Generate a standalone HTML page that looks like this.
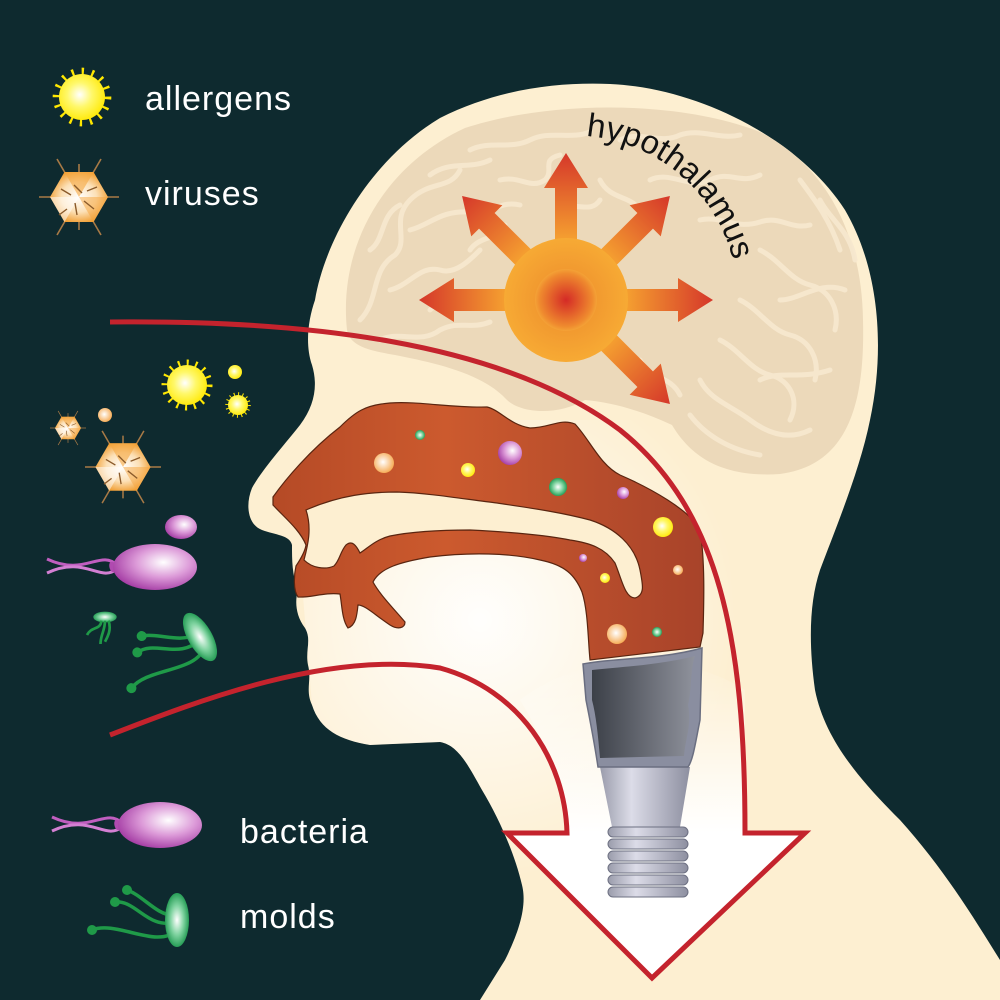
<!DOCTYPE html>
<html><head><meta charset="utf-8"><style>
html,body{margin:0;padding:0;background:#0e2a2f;}
svg{display:block}
text{font-family:"Liberation Sans",sans-serif}
</style></head><body>
<svg width="1000" height="1000" viewBox="0 0 1000 1000" xmlns="http://www.w3.org/2000/svg">
<defs>
<radialGradient id="gy" cx="0.45" cy="0.45" r="0.6"><stop offset="0" stop-color="#ffffff"/><stop offset="0.45" stop-color="#fff86a"/><stop offset="1" stop-color="#ffe800"/></radialGradient>
<radialGradient id="gp" cx="0.6" cy="0.4" r="0.65"><stop offset="0" stop-color="#ffffff"/><stop offset="0.5" stop-color="#dc9ad8"/><stop offset="1" stop-color="#a33aa3"/></radialGradient>
<radialGradient id="gg" cx="0.5" cy="0.5" r="0.55"><stop offset="0" stop-color="#ffffff"/><stop offset="0.5" stop-color="#7fd3a0"/><stop offset="1" stop-color="#149247"/></radialGradient>
<radialGradient id="gv" cx="0.5" cy="0.5" r="0.55"><stop offset="0" stop-color="#ffffff"/><stop offset="0.55" stop-color="#fce0b6"/><stop offset="1" stop-color="#f09a2a"/></radialGradient>
<radialGradient id="go" cx="0.45" cy="0.45" r="0.6"><stop offset="0" stop-color="#ffffff"/><stop offset="1" stop-color="#f5a64a"/></radialGradient>
<radialGradient id="sun" cx="0.5" cy="0.5" r="0.5"><stop offset="0" stop-color="#ec8a2c"/><stop offset="1" stop-color="#f7aa34"/></radialGradient>
<radialGradient id="sunin" cx="0.5" cy="0.5" r="0.5"><stop offset="0" stop-color="#d42a26"/><stop offset="0.85" stop-color="#ef8a2e"/><stop offset="1" stop-color="#f4a236"/></radialGradient>
<linearGradient id="arr" x1="0" y1="0" x2="1" y2="0"><stop offset="0" stop-color="#f5a030"/><stop offset="1" stop-color="#d5372a"/></linearGradient>
<radialGradient id="glow" cx="480" cy="620" r="260" gradientUnits="userSpaceOnUse"><stop offset="0" stop-color="#ffffff" stop-opacity="0.95"/><stop offset="1" stop-color="#ffffff" stop-opacity="0"/></radialGradient>
<linearGradient id="brown" x1="0" y1="0" x2="1" y2="0"><stop offset="0" stop-color="#b54a26"/><stop offset="0.4" stop-color="#cc5a2e"/><stop offset="1" stop-color="#a8432a"/></linearGradient>
<linearGradient id="lar" x1="0" y1="0" x2="1" y2="0"><stop offset="0" stop-color="#3c4048"/><stop offset="1" stop-color="#8f929c"/></linearGradient>
<linearGradient id="trach" x1="0" y1="0" x2="1" y2="0"><stop offset="0" stop-color="#9a9cab"/><stop offset="0.35" stop-color="#dcdce8"/><stop offset="1" stop-color="#8d8fa0"/></linearGradient>
<linearGradient id="stem" x1="0" y1="0" x2="0" y2="1"><stop offset="0" stop-color="#ffffff" stop-opacity="0"/><stop offset="1" stop-color="#ffffff" stop-opacity="1"/></linearGradient>
<g id="allergen"><circle r="22" fill="none" stroke="#ffe800" stroke-width="7" stroke-dasharray="2 6.6"/><circle r="20" fill="url(#gy)"/></g>
<g id="virus">
<g stroke="#a87a46" stroke-width="1.6"><line x1="-40" y1="0" x2="40" y2="0"/><line x1="-22" y1="-38" x2="22" y2="38"/><line x1="22" y1="-38" x2="-22" y2="38"/><line x1="0" y1="-33" x2="0" y2="33"/></g>
<polygon points="29,0 14.5,25 -14.5,25 -29,0 -14.5,-25 14.5,-25" fill="url(#gv)"/>
<polygon points="0,0 14.5,-25 -14.5,-25" fill="#f5a640" opacity="0.6"/>
<polygon points="0,0 14.5,25 29,0" fill="#f5a640" opacity="0.5"/>
<polygon points="0,0 -14.5,25 -29,0" fill="#fff" opacity="0.5"/>
<g stroke="#8a5a2a" stroke-width="1.4"><line x1="-5" y1="-12" x2="3" y2="-4"/><line x1="5" y1="4" x2="15" y2="12"/><line x1="-18" y1="-8" x2="-8" y2="-2"/><line x1="-4" y1="6" x2="-2" y2="18"/><line x1="8" y1="-6" x2="18" y2="-10"/><line x1="-12" y1="12" x2="-20" y2="18"/></g>
</g>
<g id="bact">
<path d="M-38,-2 C-55,-18 -70,10 -108,-8" fill="none" stroke="#c05ec0" stroke-width="3"/>
<path d="M-38,2 C-55,16 -70,-12 -108,6" fill="none" stroke="#d37fd3" stroke-width="3"/>
<path d="M-40,-4 C-50,-10 -45,10 -40,4" fill="#b04ab0"/>
<ellipse rx="42" ry="23" fill="url(#gp)"/>
</g>
<g id="mold">
<g fill="none" stroke="#1f9a48" stroke-width="3.5"><path d="M0,2 C-30,10 -40,-20 -62,-18"/><path d="M-5,-5 C-20,-5 -35,-25 -50,-30"/><path d="M0,10 C-20,30 -60,0 -85,10"/></g>
<g fill="#1f9a48"><circle cx="-62" cy="-18" r="5"/><circle cx="-50" cy="-30" r="5"/><circle cx="-85" cy="10" r="5"/></g>
<ellipse rx="12" ry="27" fill="url(#gg)"/>
</g>
<clipPath id="headclip"><path d="M480,1000 L505,960 C520,930 527,905 522,885 C515,855 500,820 482,790 C468,765 458,745 440,742 L370,745 C340,740 320,730 312,705 C305,690 312,680 308,665 C305,650 312,640 305,628 C295,615 295,600 298,590 C292,575 292,560 292,545 C290,535 275,535 262,530 C248,525 245,505 252,488 C262,470 280,450 300,425 C315,405 318,385 312,365 C305,345 308,320 315,300 C325,240 370,160 440,118 C500,88 560,82 610,84 C700,88 800,140 845,210 C880,270 885,350 870,420 C860,470 835,530 820,570 C810,600 808,640 815,690 C825,740 860,780 900,820 C945,870 975,920 1000,960 L1000,1000 Z"/></clipPath>
</defs>
<rect width="1000" height="1000" fill="#0e2a2f"/>
<path d="M480,1000 L505,960 C520,930 527,905 522,885 C515,855 500,820 482,790 C468,765 458,745 440,742 L370,745 C340,740 320,730 312,705 C305,690 312,680 308,665 C305,650 312,640 305,628 C295,615 295,600 298,590 C292,575 292,560 292,545 C290,535 275,535 262,530 C248,525 245,505 252,488 C262,470 280,450 300,425 C315,405 318,385 312,365 C305,345 308,320 315,300 C325,240 370,160 440,118 C500,88 560,82 610,84 C700,88 800,140 845,210 C880,270 885,350 870,420 C860,470 835,530 820,570 C810,600 808,640 815,690 C825,740 860,780 900,820 C945,870 975,920 1000,960 L1000,1000 Z" fill="#fdefd1"/>
<path d="M347,330 C338,245 385,165 465,128 C550,100 680,100 760,132 C830,168 862,240 863,320 C865,400 850,465 780,474 C720,478 690,455 672,425 C640,410 610,402 585,400 C560,415 520,415 505,398 C480,372 430,362 395,355 C365,350 350,345 347,330 Z" fill="#ecd9ba"/>
<g fill="none" stroke="#f7e8cf" stroke-width="5" stroke-linecap="round" opacity="0.95">
<path d="M360,320 C380,300 370,270 395,255 C410,240 390,220 410,200 C430,180 450,190 460,170"/>
<path d="M380,340 C400,330 420,345 440,330 C460,320 470,330 490,322"/>
<path d="M390,290 C410,285 420,265 440,270 C455,275 470,260 480,250"/>
<path d="M410,230 C430,225 440,210 470,212 C490,215 500,200 520,205"/>
<path d="M470,150 C490,140 510,150 530,140 C550,130 570,140 590,132"/>
<path d="M500,180 C520,175 530,190 545,180 C555,170 540,160 560,155"/>
<path d="M620,140 C640,130 660,145 680,135 C700,128 720,140 740,135"/>
<path d="M650,180 C670,170 690,190 710,180 C730,170 740,185 760,175"/>
<path d="M700,220 C720,215 735,230 760,222 C780,215 790,230 810,225"/>
<path d="M760,250 C780,260 790,280 810,285 C830,290 840,310 835,330"/>
<path d="M740,300 C760,310 770,330 790,335 C810,340 820,360 815,380"/>
<path d="M720,340 C740,350 750,370 770,375 C790,380 800,400 790,420"/>
<path d="M700,380 C710,400 730,405 750,420 C770,435 790,440 810,430"/>
<path d="M690,415 C705,435 730,450 760,455"/>
<path d="M640,360 C650,380 670,375 680,395"/>
<path d="M800,180 C815,200 830,220 840,250"/>
<path d="M430,175 C450,160 470,170 490,160"/>
<path d="M600,180 C610,200 630,195 640,210"/>
<path d="M470,250 C480,235 500,240 505,225"/>
<path d="M370,250 C385,240 380,215 400,205"/>
<path d="M560,210 C575,200 590,215 600,200"/>
<path d="M780,300 C800,300 820,280 845,290"/>
<path d="M760,380 C780,370 800,380 830,370"/>
<path d="M430,310 C440,300 460,305 470,295"/>
<path d="M820,200 C830,220 850,230 855,260"/>
</g>
<path d="M480,1000 L505,960 C520,930 527,905 522,885 C515,855 500,820 482,790 C468,765 458,745 440,742 L370,745 C340,740 320,730 312,705 L300,560 L480,420 L720,420 L760,1000 Z" fill="url(#glow)" clip-path="url(#headclip)"/>
<g transform="translate(566,300)">
<g id="ar"><polygon points="60,-11 112,-11 112,-22 147,0 112,22 112,11 60,11" fill="url(#arr)"/></g>
<use href="#ar" transform="rotate(-90)"/>
<use href="#ar" transform="rotate(-45)"/>
<use href="#ar" transform="rotate(-135)"/>
<use href="#ar" transform="rotate(180)"/>
<use href="#ar" transform="rotate(45)"/>
<circle r="62" fill="url(#sun)"/>
<circle r="31" fill="url(#sunin)"/>
</g>
<path id="tp" d="M586,136 A165,165 0 0 1 738,300" fill="none"/>
<text font-size="33" fill="#111"><textPath href="#tp">hypothalamus</textPath></text>
<path d="M273,497 C285,480 310,450 340,427 C355,412 365,405 390,403 C420,401 450,408 487,407 C500,410 510,425 530,428 C550,428 560,418 575,424 C590,440 600,465 620,475 C650,488 690,510 700,530 C705,560 704,600 703,633 L700,647 L590,660 C588,640 588,610 582,592 C575,575 565,565 540,560 C510,553 470,552 430,557 C400,562 380,568 373,582 C380,595 395,610 405,622 C405,628 398,630 390,625 C375,615 365,605 358,605 C357,615 356,625 348,628 C342,620 342,605 340,594 C325,592 310,598 298,597 C293,590 294,575 296,566 C300,560 305,552 306,545 C300,530 285,518 273,505 Z" fill="url(#brown)" stroke="#5a2510" stroke-width="1.2"/>
<path d="M306,510 C340,495 370,492 397,492 C430,493 470,500 497,503 C530,508 560,512 590,520 C615,528 635,545 640,570 C643,585 645,595 635,598 C625,598 622,580 615,563 C605,548 590,543 570,540 C545,535 510,532 470,530 C440,530 410,532 390,536 C375,540 368,548 360,553 C356,545 352,540 346,545 C340,552 340,560 334,566 C325,570 312,568 304,560 C308,545 312,528 306,510 Z" fill="#fdefd1" stroke="#5a2510" stroke-width="1.2"/>
<g>
<circle cx="384" cy="463" r="10" fill="url(#go)"/>
<circle cx="420" cy="435" r="5" fill="url(#gg)"/>
<circle cx="468" cy="470" r="7" fill="url(#gy)"/>
<circle cx="510" cy="453" r="12" fill="url(#gp)"/>
<circle cx="558" cy="487" r="9" fill="url(#gg)"/>
<circle cx="623" cy="493" r="6" fill="url(#gp)"/>
<circle cx="663" cy="527" r="10" fill="url(#gy)"/>
<circle cx="583" cy="558" r="4" fill="url(#gp)"/>
<circle cx="605" cy="578" r="5" fill="url(#gy)"/>
<circle cx="678" cy="570" r="5" fill="url(#go)"/>
<circle cx="617" cy="634" r="10" fill="url(#go)"/>
<circle cx="657" cy="632" r="5" fill="url(#gg)"/>
</g>
<path d="M567,833 L745,833 L745,690 C700,660 600,640 520,700 C545,740 562,790 567,833 Z" fill="url(#stem)"/>
<polygon points="507,833 805,833 652,978" fill="#ffffff"/>
<path d="M110,322 C300,320 500,340 620,430 C720,510 745,640 745,833 L805,833 L652,978 L507,833 L567,833 C565,760 520,690 440,668 C330,650 200,700 110,735" fill="none" stroke="#c4232d" stroke-width="5" stroke-linejoin="miter"/>
<path d="M600,767 L690,767 L680,827 L612,827 Z" fill="url(#trach)"/>
<path d="M583,664 C610,658 660,660 702,648 L700,720 C695,745 693,760 688,767 L598,767 C594,740 590,720 586,700 Z" fill="#8a8ea0" stroke="#6a6e80" stroke-width="1.5"/>
<path d="M592,670 C620,667 660,665 695,656 C690,670 692,690 688,705 C692,725 685,740 684,756 L600,758 C598,735 596,715 592,700 Z" fill="url(#lar)"/>
<g fill="url(#trach)" stroke="#6d7082" stroke-width="1">
<rect x="608" y="827" width="80" height="10" rx="5"/>
<rect x="608" y="839" width="80" height="10" rx="5"/>
<rect x="608" y="851" width="80" height="10" rx="5"/>
<rect x="608" y="863" width="80" height="10" rx="5"/>
<rect x="608" y="875" width="80" height="10" rx="5"/>
<rect x="608" y="887" width="80" height="10" rx="5"/>
</g>
<use href="#allergen" transform="translate(187,385)"/>
<circle cx="235" cy="372" r="7" fill="url(#gy)"/>
<use href="#allergen" transform="translate(238,405) scale(0.5)"/>
<use href="#virus" transform="translate(68,428) scale(0.45)"/>
<circle cx="105" cy="415" r="7" fill="url(#go)"/>
<use href="#virus" transform="translate(123,467) scale(0.95)"/>
<ellipse cx="181" cy="527" rx="16" ry="12" fill="url(#gp)"/>
<use href="#bact" transform="translate(155,567)"/>
<g transform="translate(200,637) rotate(-30)"><use href="#mold"/></g>
<g transform="translate(105,617) scale(0.45)"><ellipse rx="26" ry="12" fill="url(#gg)"/><g fill="none" stroke="#1f9a48" stroke-width="6"><path d="M-8,8 C-10,30 -30,20 -40,40"/><path d="M0,8 C0,30 -10,40 -10,60"/><path d="M8,8 C15,30 5,45 0,55"/></g></g>
<use href="#allergen" transform="translate(82,97) scale(1.15)"/>
<text x="145" y="110" font-size="34" letter-spacing="1" fill="#ffffff">allergens</text>
<use href="#virus" transform="translate(79,197)"/>
<text x="145" y="205" font-size="34" letter-spacing="1" fill="#ffffff">viruses</text>
<use href="#bact" transform="translate(160,825)"/>
<text x="240" y="843" font-size="34" letter-spacing="1" fill="#ffffff">bacteria</text>
<g transform="translate(177,920)"><use href="#mold"/></g>
<text x="240" y="928" font-size="34" letter-spacing="1" fill="#ffffff">molds</text>
</svg>
</body></html>
